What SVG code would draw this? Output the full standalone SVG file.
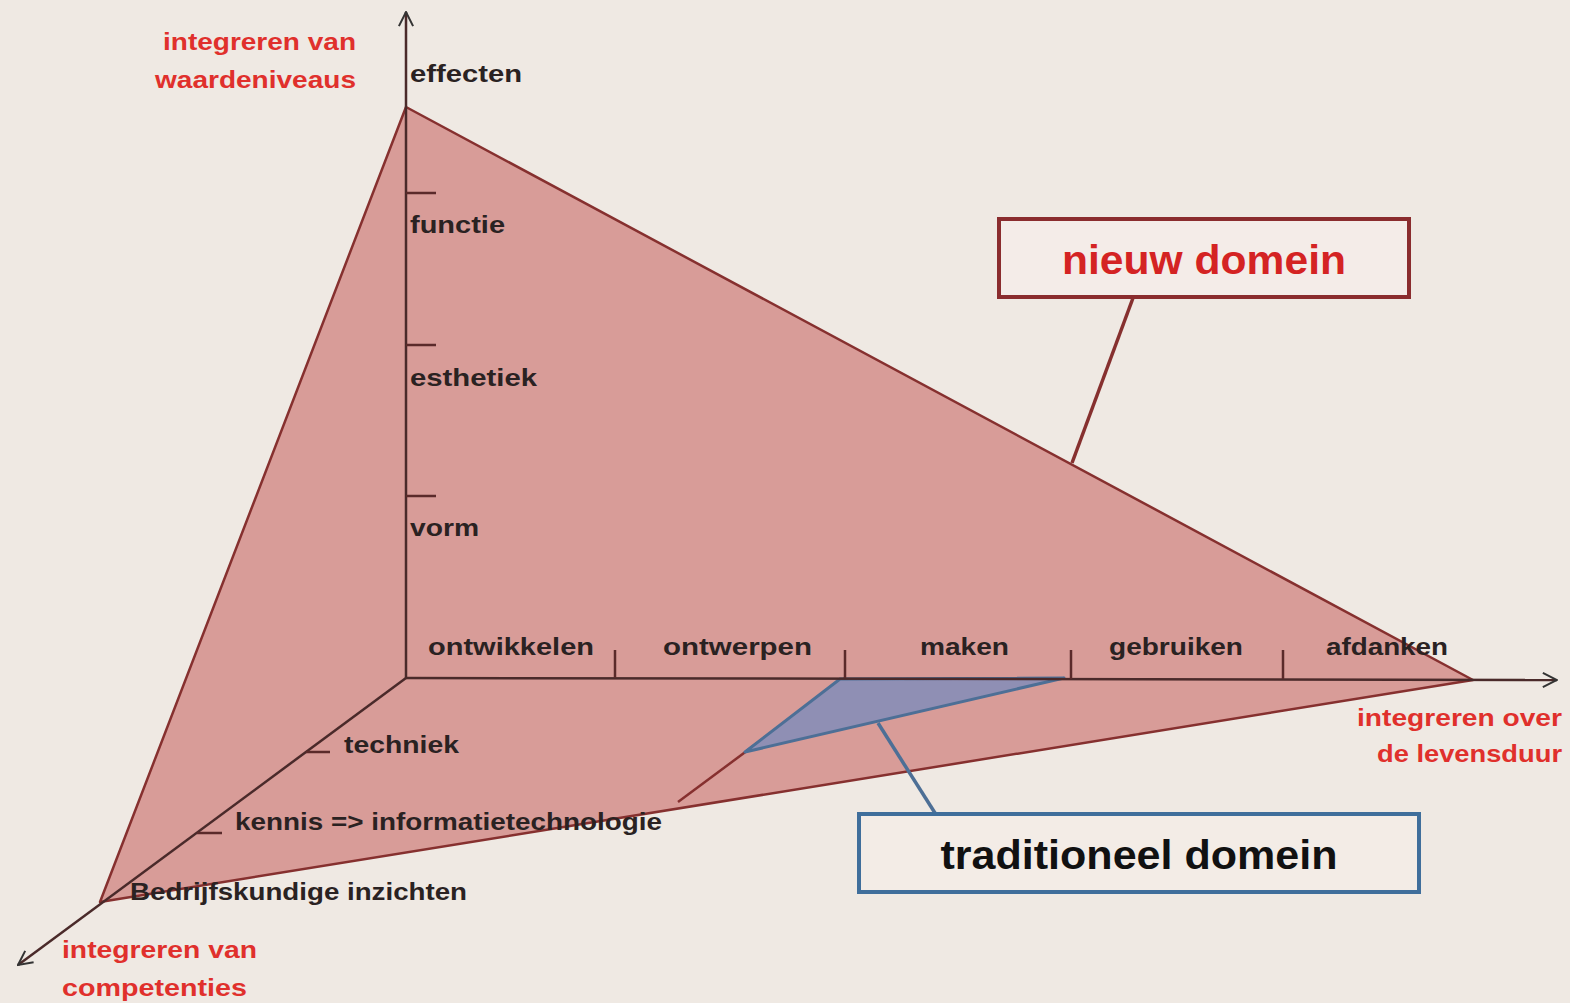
<svg xmlns="http://www.w3.org/2000/svg" width="1570" height="1003" viewBox="0 0 1570 1003">
<style>
.lbl{font-family:"Liberation Sans",Arial,sans-serif;font-weight:bold;font-size:24px;fill:#2a2222}
.red{font-family:"Liberation Sans",Arial,sans-serif;font-weight:bold;font-size:24px;fill:#e0302c}
.axis{stroke:#4a2a2a;stroke-width:2.5;fill:none}
.edge{stroke:#86302f;stroke-width:2.5;fill:none}
.tick{stroke:#5a2a2a;stroke-width:2.5}
</style>
<defs>
<marker id="arr" viewBox="0 0 12 12" refX="11" refY="6" markerWidth="17" markerHeight="17" markerUnits="userSpaceOnUse" orient="auto">
<path d="M1,1 L11,6 L1,11" fill="none" stroke="#333" stroke-width="1.4"/>
</marker>
</defs>
<rect width="1570" height="1003" fill="#efe9e3"/>
<g id="triangle">
<polygon points="406,107 1473,680 100,902" fill="#d89c98" stroke="#86302f" stroke-width="2.5" stroke-linejoin="round"/>
</g>
<g id="traditional-area">
<line x1="845" y1="678" x2="678" y2="802" class="edge"/>
<polygon points="840,679 1064,678 745,752" fill="#8f8fb4" stroke="#4d6f96" stroke-width="3" stroke-linejoin="round"/>
</g>
<g id="axes">
<line x1="406" y1="678" x2="406" y2="12" class="axis" marker-end="url(#arr)"/>
<line x1="406" y1="678" x2="1557" y2="680" class="axis" marker-end="url(#arr)"/>
<line x1="406" y1="678" x2="18" y2="965" class="axis" marker-end="url(#arr)"/>
<line x1="406" y1="193" x2="436" y2="193" class="tick"/>
<line x1="406" y1="345" x2="436" y2="345" class="tick"/>
<line x1="406" y1="496" x2="436" y2="496" class="tick"/>
<line x1="615" y1="650" x2="615" y2="678" class="tick"/>
<line x1="845" y1="650" x2="845" y2="678" class="tick"/>
<line x1="1071" y1="650" x2="1071" y2="679" class="tick"/>
<line x1="1283" y1="650" x2="1283" y2="679" class="tick"/>
<line x1="306" y1="752" x2="330" y2="752" class="tick"/>
<line x1="197" y1="833" x2="222" y2="833" class="tick"/>
</g>
<g id="axis-labels">
<text class="lbl" x="410" y="82" textLength="112" lengthAdjust="spacingAndGlyphs">effecten</text>
<text class="lbl" x="410" y="233" textLength="95" lengthAdjust="spacingAndGlyphs">functie</text>
<text class="lbl" x="410" y="386" textLength="127" lengthAdjust="spacingAndGlyphs">esthetiek</text>
<text class="lbl" x="410" y="536" textLength="69" lengthAdjust="spacingAndGlyphs">vorm</text>
<text class="lbl" x="428" y="655" textLength="166" lengthAdjust="spacingAndGlyphs">ontwikkelen</text>
<text class="lbl" x="663" y="655" textLength="149" lengthAdjust="spacingAndGlyphs">ontwerpen</text>
<text class="lbl" x="920" y="655" textLength="89" lengthAdjust="spacingAndGlyphs">maken</text>
<text class="lbl" x="1109" y="655" textLength="134" lengthAdjust="spacingAndGlyphs">gebruiken</text>
<text class="lbl" x="1326" y="655" textLength="122" lengthAdjust="spacingAndGlyphs">afdanken</text>
<text class="lbl" x="344" y="753" textLength="115" lengthAdjust="spacingAndGlyphs">techniek</text>
<text class="lbl" x="235" y="830" textLength="427" lengthAdjust="spacingAndGlyphs">kennis =&gt; informatietechnologie</text>
<text class="lbl" x="130" y="900" textLength="337" lengthAdjust="spacingAndGlyphs">Bedrijfskundige inzichten</text>
</g>
<g id="axis-titles">
<text class="red" x="163" y="50" textLength="193" lengthAdjust="spacingAndGlyphs">integreren van</text>
<text class="red" x="155" y="88" textLength="201" lengthAdjust="spacingAndGlyphs">waardeniveaus</text>
<text class="red" x="1357" y="726" textLength="205" lengthAdjust="spacingAndGlyphs">integreren over</text>
<text class="red" x="1377" y="762" textLength="185" lengthAdjust="spacingAndGlyphs">de levensduur</text>
<text class="red" x="62" y="958" textLength="195" lengthAdjust="spacingAndGlyphs">integreren van</text>
<text class="red" x="62" y="996" textLength="185" lengthAdjust="spacingAndGlyphs">competenties</text>
</g>
<g id="connectors">
<line x1="1133" y1="298" x2="1072" y2="463" stroke="#86302f" stroke-width="3.5"/>
<line x1="935" y1="813" x2="878" y2="723" stroke="#4d6f96" stroke-width="3.5"/>
</g>
<g id="nieuw-domein">
<rect x="999" y="219" width="410" height="78" fill="#f4ece8" stroke="#8a2c2e" stroke-width="4"/>
<text x="1204" y="274" text-anchor="middle" font-family="Liberation Sans, Arial, sans-serif" font-weight="bold" font-size="40" fill="#d42323" textLength="284" lengthAdjust="spacingAndGlyphs">nieuw domein</text>
</g>
<g id="traditioneel-domein">
<rect x="859" y="814" width="560" height="78" fill="#f3ece6" stroke="#3f6e9b" stroke-width="4"/>
<text x="1139" y="869" text-anchor="middle" font-family="Liberation Sans, Arial, sans-serif" font-weight="bold" font-size="40" fill="#111" textLength="397" lengthAdjust="spacingAndGlyphs">traditioneel domein</text>
</g>
</svg>
